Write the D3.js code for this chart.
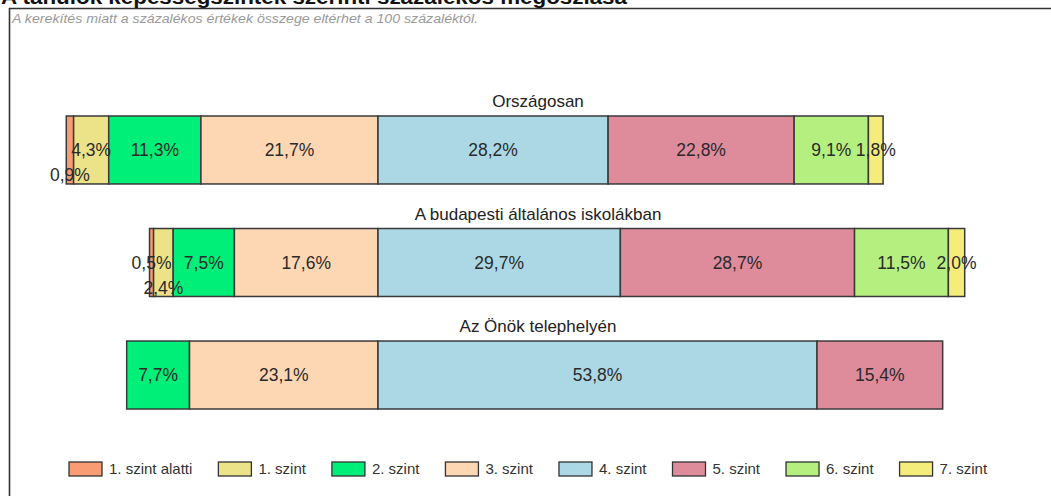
<!DOCTYPE html>
<html>
<head>
<meta charset="utf-8">
<script src="https://cdn.jsdelivr.net/npm/d3@7"></script>
<style>
  html, body { margin: 0; padding: 0; background: #fff; }
  svg { display: block; font-family: "Liberation Sans", Arial, sans-serif; }
</style>
</head>
<body>
<svg id="chart" width="1051" height="496"></svg>
<script>
// ---- data ----
const chartTitle = "A tanulók képességszintek szerinti százalékos megoszlása";
const note = "A kerekítés miatt a százalékos értékek összege eltérhet a 100 százaléktól.";
const levels = ["1. szint alatti", "1. szint", "2. szint", "3. szint", "4. szint", "5. szint", "6. szint", "7. szint"];
const groups = ["Országosan", "A budapesti általános iskolákban", "Az Önök telephelyén"];
const valuesOrszagosan = [0.9, 4.3, 11.3, 21.7, 28.2, 22.8, 9.1, 1.8];
const valuesBudapest = [0.5, 2.4, 7.5, 17.6, 29.7, 28.7, 11.5, 2.0];
const valuesTelephely = [0, 0, 7.7, 23.1, 53.8, 15.4, 0, 0];
const levelColors = ["#f89c74", "#ece389", "#00ef78", "#fdd6b3", "#acd8e5", "#de8b9c", "#b4ef80", "#f4ed7b"];
// label placement hints (which small labels are pushed below the centre)
const loweredLabels = [[0], [1], []];

const seriesByGroup = [valuesOrszagosan, valuesBudapest, valuesTelephely];
const leftCount = 4; // levels left of the zero line

const svg = d3.select("#chart");

// frame
svg.append("path")
  .attr("d", "M9.5,496 L9.5,8.5 L1051,8.5")
  .attr("fill", "none").attr("stroke", "#333").attr("stroke-width", 1.6);

// title (partially cut off at top, as in the reference)
svg.append("text")
  .attr("x", 1).attr("y", 4)
  .attr("font-size", 21).attr("font-weight", "bold").attr("fill", "#111")
  .attr("textLength", 626).attr("lengthAdjust", "spacingAndGlyphs")
  .text(chartTitle);

svg.append("text")
  .attr("x", 12).attr("y", 23)
  .attr("font-size", 12).attr("font-style", "italic").attr("fill", "#9a9a9a")
  .attr("textLength", 466).attr("lengthAdjust", "spacingAndGlyphs")
  .text(note);

// scales
const x = d3.scaleLinear().domain([-40, 80]).range([51.6, 1030.8]);
const y = d3.scaleBand().domain(groups).range([116, 409]).paddingInner(0.396).paddingOuter(0);

const fmt = v => d3.format(".1f")(v).replace(".", ",") + "%";

groups.forEach((g, gi) => {
  const vals = seriesByGroup[gi];
  const segs = [];
  let acc = 0;
  for (let i = leftCount - 1; i >= 0; i--) {
    segs.push({ i, x0: -(acc + vals[i]), x1: -acc, v: vals[i] });
    acc += vals[i];
  }
  acc = 0;
  for (let i = leftCount; i < levels.length; i++) {
    segs.push({ i, x0: acc, x1: acc + vals[i], v: vals[i] });
    acc += vals[i];
  }
  const shown = segs.filter(s => s.v > 0).sort((a, b) => a.i - b.i);
  const top = y(g), h = y.bandwidth();
  const grp = svg.append("g");

  grp.append("text")
    .attr("x", 538).attr("y", top - 9)
    .attr("text-anchor", "middle").attr("font-size", 17).attr("fill", "#222")
    .text(g);

  grp.selectAll("rect").data(shown).join("rect")
    .attr("x", d => x(d.x0)).attr("y", top)
    .attr("width", d => x(d.x1) - x(d.x0)).attr("height", h)
    .attr("fill", d => levelColors[d.i])
    .attr("stroke", "#3a3a3a").attr("stroke-width", 1.5);

  grp.selectAll("text.lbl").data(shown).join("text")
    .attr("class", "lbl")
    .attr("x", d => (x(d.x0) + x(d.x1)) / 2)
    .attr("y", d => top + h / 2 + (loweredLabels[gi].includes(d.i) ? 25 : 0))
    .attr("dy", "0.36em")
    .attr("text-anchor", "middle").attr("font-size", 17.5).attr("fill", "#2a2a2a")
    .text(d => fmt(d.v));
});

// legend
const legend = svg.append("g");
let lx = 69;
levels.forEach((lv, i) => {
  legend.append("rect")
    .attr("x", lx).attr("y", 462).attr("width", 33).attr("height", 14)
    .attr("fill", levelColors[i]).attr("stroke", "#333").attr("stroke-width", 1.3);
  const t = legend.append("text")
    .attr("x", lx + 40).attr("y", 469).attr("dy", "0.36em")
    .attr("font-size", 15).attr("fill", "#333")
    .text(lv);
  lx += 40 + t.node().getComputedTextLength() + 26;
});
</script>
</body>
</html>
